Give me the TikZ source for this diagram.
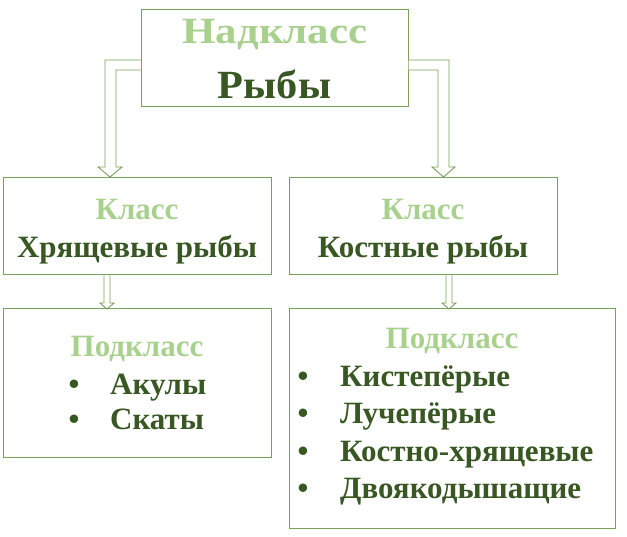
\documentclass[tikz,border=0pt]{standalone}
\usepackage{fontspec}
\setmainfont{Liberation Serif}
\definecolor{bordc}{HTML}{77A058}
\definecolor{lightg}{HTML}{A9D18E}
\definecolor{darkg}{HTML}{385723}
\newcommand{\fsz}[1]{\fontsize{#1}{#1}\selectfont\bfseries}
\tikzset{
  boxn/.style={draw=bordc, line width=1pt, fill=white, inner sep=0pt},
  lab/.style={anchor=base, inner sep=0pt, text=lightg},
  nam/.style={anchor=base, inner sep=0pt, text=darkg},
  itm/.style={anchor=base west, inner sep=0pt, text=darkg},
  bul/.style={anchor=base, inner sep=0pt, text=darkg},
  hollow/.style={draw=bordc, line width=0.9pt, line join=miter, fill=white}
}
\begin{document}
\begin{tikzpicture}[x=1pt,y=-1pt]
\useasboundingbox (0,0) rectangle (627,537);
% boxes
\node[boxn, minimum width=267pt, minimum height=97pt] (top) at (274.5,58.5) {};
\node[boxn, minimum width=268pt, minimum height=97pt] (kl) at (137,226.5) {};
\node[boxn, minimum width=268pt, minimum height=97pt] (kr) at (423,226.5) {};
\node[boxn, minimum width=268pt, minimum height=148pt] (pl) at (137,383) {};
\node[boxn, minimum width=326pt, minimum height=219pt] (pr) at (452,418.5) {};
% hollow arrows
\draw[hollow] (top.west |- 0,60) -- (105,60) -- (105,167) -- (98,167) -- (110,177) -- (122,167) -- (116,167) -- (116,70) -- (top.west |- 0,70);
\draw[hollow] (top.east |- 0,60) -- (449,60) -- (449,167) -- (455,167) -- (443.5,177) -- (432,167) -- (438,167) -- (438,70) -- (top.east |- 0,70);
\draw[hollow] (104,0 |- kl.south) -- (104,303) -- (100,303) -- (107,309) -- (114,303) -- (110,303) -- (110,0 |- kl.south);
\draw[hollow] (446,0 |- kr.south) -- (446,303) -- (442,303) -- (449,309) -- (456,303) -- (452,303) -- (452,0 |- kr.south);
% texts
\node[lab, font=\fsz{37}, xscale=1.16] (t1) at (275,44) {Надкласс};
\node[nam, font=\fsz{40}, xscale=1.06] (t2) at (274.5,99) {Рыбы};
\node[lab, font=\fsz{31}] (k1) at (137,220) {Класс};
\node[nam, font=\fsz{31}] (k2) at (137,258) {Хрящевые рыбы};
\node[lab, font=\fsz{31}] (k3) at (423,220) {Класс};
\node[nam, font=\fsz{31}] (k4) at (423,258) {Костные рыбы};
\node[lab, font=\fsz{31}] (p1) at (137,357) {Подкласс};
\node[bul, font=\fsz{31}] (b1) at (74,395) {•};
\node[itm, font=\fsz{31}] (a1) at (110,395) {Акулы};
\node[bul, font=\fsz{31}] (b2) at (74,430) {•};
\node[itm, font=\fsz{31}] (a2) at (110,430) {Скаты};
\node[lab, font=\fsz{31}] (p2) at (452,349) {Подкласс};
\node[bul, font=\fsz{31}] (c1) at (303,387) {•};
\node[itm, font=\fsz{31}] (d1) at (340,387) {Кистепёрые};
\node[bul, font=\fsz{31}] (c2) at (303,424) {•};
\node[itm, font=\fsz{31}] (d2) at (340,424) {Лучепёрые};
\node[bul, font=\fsz{31}] (c3) at (303,461) {•};
\node[itm, font=\fsz{31}] (d3) at (340,461) {Костно-хрящевые};
\node[bul, font=\fsz{31}] (c4) at (303,498) {•};
\node[itm, font=\fsz{31}] (d4) at (340,498) {Двоякодышащие};
\end{tikzpicture}
\end{document}
